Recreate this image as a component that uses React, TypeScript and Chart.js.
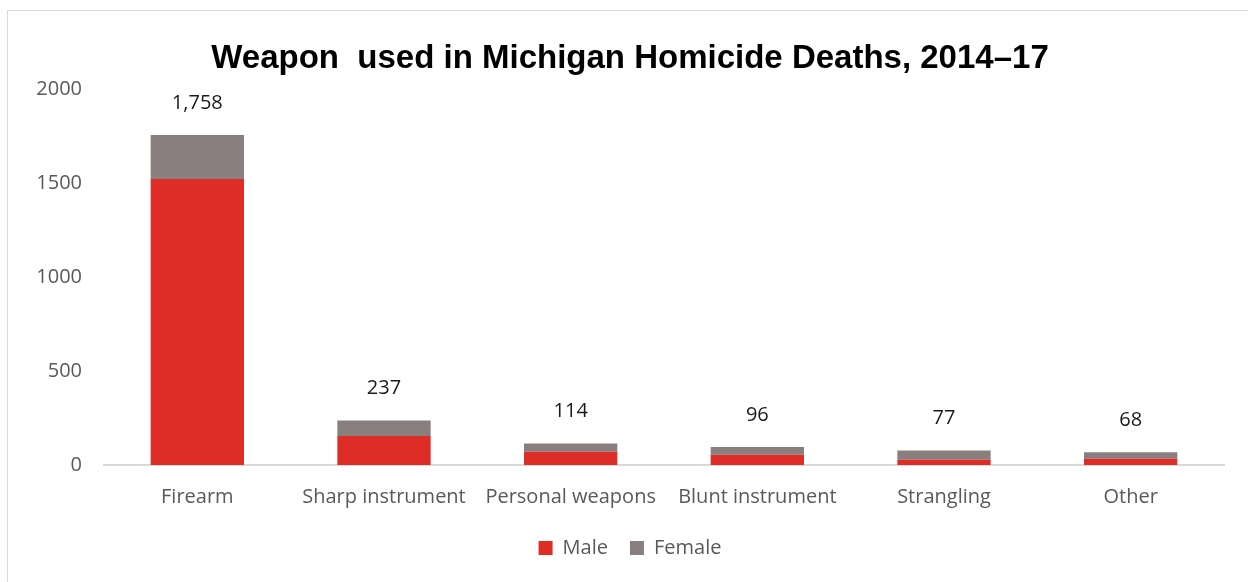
import React, { useEffect, useRef } from "react";
import { Chart, registerables } from "chart.js";

Chart.register(...registerables);

const categories = ["Firearm", "Sharp instrument", "Personal weapons", "Blunt instrument", "Strangling", "Other"];
const maleValues = [1524, 155, 71, 55, 28, 33];
const femaleValues = [234, 82, 43, 41, 49, 35];
const yTicks = [0, 500, 1000, 1500, 2000];

const titleText = "Weapon  used in Michigan Homicide Deaths, 2014\u201317";
const RED = "#DE2D26";
const GRAY = "#897F7F";
const TEXT = "#595959";
const FONT = "'Open Sans', 'DejaVu Sans', sans-serif";

const totalLabels = {
  id: "totalLabels",
  afterDatasetsDraw(chart: any) {
    const ctx = chart.ctx;
    const meta = chart.getDatasetMeta(chart.data.datasets.length - 1);
    const y = chart.scales.y;
    ctx.save();
    ctx.fillStyle = "#1a1a1a";
    ctx.font = `20px ${FONT}`;
    ctx.textAlign = "center";
    ctx.textBaseline = "middle";
    categories.forEach((_, i) => {
      const total = maleValues[i] + femaleValues[i];
      const px = meta.data[i].x;
      const py = y.getPixelForValue(total) - 32;
      ctx.fillText(total.toLocaleString("en-US"), px, py);
    });
    ctx.restore();
  },
};

export default function App() {
  const ref = useRef<HTMLCanvasElement | null>(null);
  useEffect(() => {
    if (!ref.current) return;
    const chart = new Chart(ref.current, {
      type: "bar",
      data: {
        labels: categories,
        datasets: [
          { label: "Male", data: maleValues, backgroundColor: RED, borderWidth: 0 },
          { label: "Female", data: femaleValues, backgroundColor: GRAY, borderWidth: 0 },
        ],
      },
      options: {
        animation: false,
        responsive: false,
        maintainAspectRatio: false,
        layout: { padding: { top: 0, left: 36, right: 24, bottom: 14 } },
        datasets: { bar: { barPercentage: 0.5, categoryPercentage: 1 } },
        scales: {
          x: {
            stacked: true,
            grid: { display: false, drawTicks: false },
            border: { display: true, color: "#d9d9d9", width: 2 },
            ticks: { color: TEXT, font: { family: FONT, size: 20 }, padding: 20 },
            afterFit: (axis: any) => {
              axis.height = 51;
            },
          },
          y: {
            stacked: true,
            min: 0,
            max: 2000,
            afterBuildTicks: (axis: any) => {
              axis.ticks = yTicks.map((v) => ({ value: v }));
            },
            afterFit: (axis: any) => {
              axis.width = 68;
            },
            grid: { display: false, drawTicks: false },
            border: { display: false },
            ticks: {
              color: TEXT,
              font: { family: FONT, size: 20 },
              padding: 22,
              callback: (v: any) => String(v),
            },
          },
        },
        plugins: {
          title: {
            display: true,
            text: titleText,
            color: "#000000",
            font: { family: "'Liberation Sans', sans-serif", size: 33, weight: "bold" },
            padding: { top: 39, bottom: 11 },
          },
          legend: {
            position: "bottom",
            labels: {
              color: TEXT,
              font: { family: FONT, size: 20 },
              boxWidth: 14,
              boxHeight: 14,
              padding: 22,
            },
          },
          tooltip: { enabled: false },
        },
      },
      plugins: [totalLabels],
    });
    return () => chart.destroy();
  }, []);

  return (
    <div style={{ position: "fixed", left: 0, top: 0, width: 1248, height: 582, overflow: "hidden", background: "#fff" }}>
      <div
        style={{
          position: "absolute",
          left: 7,
          top: 10,
          width: 1300,
          height: 700,
          border: "1px solid #d9d9d9",
        }}
      />
      <canvas ref={ref} width={1248} height={582} style={{ position: "absolute", left: 0, top: 0, width: 1248, height: 582 }} />
    </div>
  );
}
